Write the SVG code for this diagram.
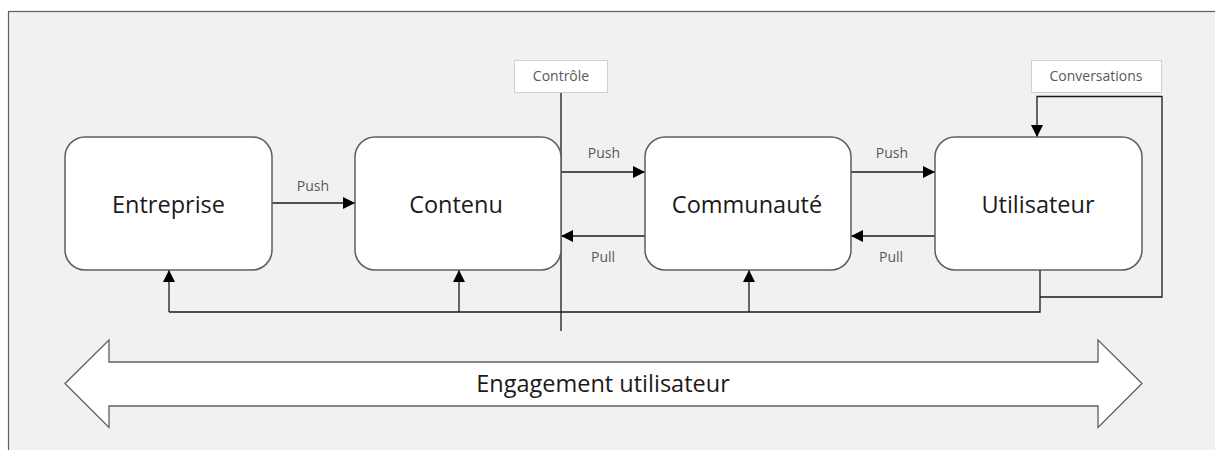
<svg xmlns="http://www.w3.org/2000/svg" width="1215" height="450" viewBox="0 0 1215 450">
<style>
.node{fill:#fff;stroke:#5f5f5f;stroke-width:1.5}
.nt{font-family:"Open Sans","Noto Sans",sans-serif;font-size:23.5px;fill:#1a1a1a;text-anchor:middle}
.lt{font-family:"Open Sans","Noto Sans",sans-serif;font-size:14px;fill:#595959;text-anchor:middle}
.c{fill:none;stroke:#1a1a1a;stroke-width:1.3}
.lb{fill:#fff;stroke:#d0d0d0;stroke-width:1}
</style>
<defs>
<marker id="ah" viewBox="0 0 10 10" refX="10" refY="5" markerWidth="12" markerHeight="12" markerUnits="userSpaceOnUse" orient="auto">
<path d="M0,0 L10,5 L0,10 z" fill="#000"/>
</marker>
</defs>
<rect x="8.5" y="11.5" width="1220" height="450" fill="#f1f1f1" stroke="#5f5f5f" stroke-width="1.2"/>

<g id="connectors">
<line class="c" x1="272" y1="203" x2="355" y2="203" marker-end="url(#ah)"/>
<line class="c" x1="561" y1="172" x2="645" y2="172" marker-end="url(#ah)"/>
<line class="c" x1="645" y1="236" x2="561" y2="236" marker-end="url(#ah)"/>
<line class="c" x1="851" y1="172" x2="935" y2="172" marker-end="url(#ah)"/>
<line class="c" x1="935" y1="236" x2="851" y2="236" marker-end="url(#ah)"/>
<line class="c" x1="561" y1="93" x2="561" y2="331"/>
<polyline class="c" points="1040,297 1162,297 1162,96.5 1037,96.5 1037,137" marker-end="url(#ah)"/>
<polyline class="c" points="1040,270 1040,312 169,312"/>
<line class="c" x1="169" y1="312" x2="169" y2="270" marker-end="url(#ah)"/>
<line class="c" x1="459" y1="312" x2="459" y2="270" marker-end="url(#ah)"/>
<line class="c" x1="749" y1="312" x2="749" y2="270" marker-end="url(#ah)"/>
<text class="lt" x="313" y="191">Push</text>
<text class="lt" x="604" y="158">Push</text>
<text class="lt" x="603" y="262">Pull</text>
<text class="lt" x="892" y="158">Push</text>
<text class="lt" x="891" y="262">Pull</text>
</g>

<g id="label-controle">
<rect class="lb" x="514.5" y="60.5" width="93" height="32"/>
<text class="lt" x="561" y="81">Contrôle</text>
</g>
<g id="label-conversations">
<rect class="lb" x="1031.5" y="60.5" width="130" height="32"/>
<text class="lt" x="1096" y="81">Conversations</text>
</g>

<g id="entreprise">
<rect class="node" x="65" y="137" width="207" height="133" rx="20"/>
<text class="nt" x="168.5" y="213">Entreprise</text>
</g>
<g id="contenu">
<rect class="node" x="355" y="137" width="206" height="133" rx="20"/>
<text class="nt" x="456" y="213">Contenu</text>
</g>
<g id="communaute">
<rect class="node" x="645" y="137" width="206" height="133" rx="20"/>
<text class="nt" x="747" y="213">Communauté</text>
</g>
<g id="utilisateur">
<rect class="node" x="935" y="137" width="207" height="133" rx="20"/>
<text class="nt" x="1038" y="213">Utilisateur</text>
</g>

<g id="engagement">
<polygon points="65,383.5 109,340 109,362 1098,362 1098,340 1142,383.5 1098,427.5 1098,406 109,406 109,427.5" fill="#fff" stroke="#5f5f5f" stroke-width="1.3"/>
<text class="nt" x="603" y="392" font-size="22.5">Engagement utilisateur</text>
</g>
</svg>
